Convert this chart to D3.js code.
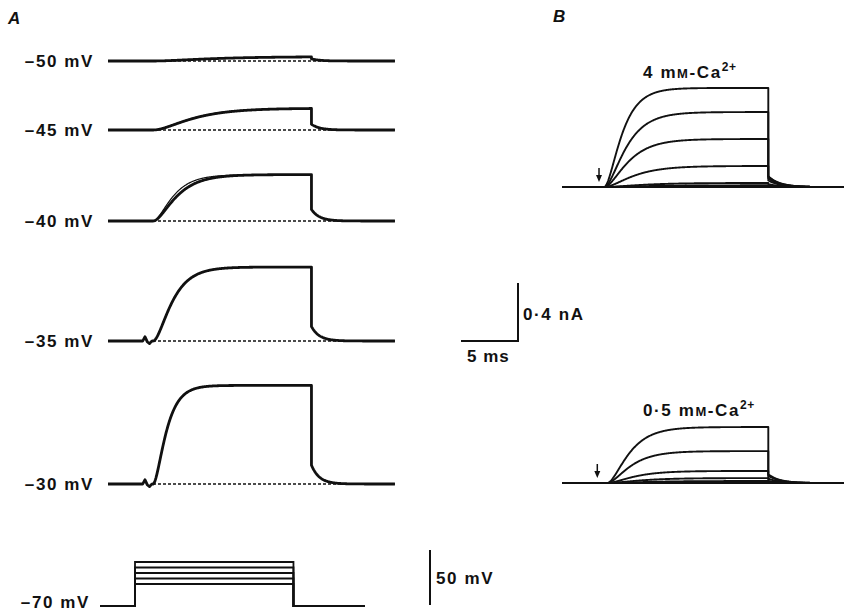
<!DOCTYPE html>
<html>
<head>
<meta charset="utf-8">
<script src="https://cdn.jsdelivr.net/npm/d3@7"></script>
<style>
  body { margin: 0; background: #fff; }
  text { font-family: "Liberation Sans", Arial, sans-serif; font-weight: bold; fill: #111;
         font-size: 17px; letter-spacing: 1.6px; }
</style>
</head>
<body>
<svg id="chart" width="844" height="612"></svg>
<script>
// ---- Panel A data: test steps from -70 mV and the currents they evoke ----
const stepLabels = ["\u201350 mV", "\u201345 mV", "\u201340 mV", "\u201335 mV", "\u201330 mV"];
const stepVoltages = [-50, -45, -40, -35, -30];     // mV
const holdingPotential = -70;                        // mV
const plateauA = [0.03, 0.15, 0.32, 0.51, 0.68];     // nA
const recTauA = [4.0, 2.7, 1.6, 1.3, 0.9];           // ms, recorded rise
const fitTauA = [4.0, 2.6, 1.35, 1.3, 0.9];          // ms, fitted rise
const tailA = [0.015, 0.04, 0.08, 0.1, 0.13];        // nA at step end
const blipA = [0, 0, 0, 0.03, 0.03];                 // nA, capacity artefact
const blipTimes = [-0.9, -0.7, -0.5, -0.3, -0.1];    // ms
const blipShape = [0, 1, -0.2, -0.6, 0];
const pulseA = 13.9;                                 // ms
const tailTauA = 0.7;                                // ms

// ---- Panel B data: computed families at two Ca concentrations ----
const concLabels = ["4", "0\u00b75"];
const plateauB4 = [0.683, 0.517, 0.331, 0.145, 0.028, 0.012];
const tauB4 = [1.2, 1.5, 1.65, 2.0, 2.6, 3.0];
const tailB4 = [0.075, 0.07, 0.06, 0.045, 0.02, 0.01];
const plateauB05 = [0.386, 0.22, 0.083, 0.034, 0.014];
const tauB05 = [1.5, 1.6, 1.85, 2.3, 2.8];
const tailB05 = [0.06, 0.05, 0.03, 0.015, 0.008];
const delayB = [0.1, 0.35];                          // ms
const arrowB = [-0.35, -0.5];                        // ms, stimulus marker
const pulseB = 14.5;                                 // ms
const tailTauB = 1.0;

// scale bars
const barCurrent = 0.4;   // nA
const barTime = 5;        // ms
const barVoltage = 50;    // mV

// ---- layout ----
const pxPerMs = 11.4, pxPerNa = 145;
const baseA = [61, 130, 221, 341, 484];
const baseB = [187, 483];

const svg = d3.select("#chart");

const xA = d3.scaleLinear().domain([0, 1]).range([153, 153 + pxPerMs]);
const xV = d3.scaleLinear().domain([0, 1]).range([135, 135 + pxPerMs]);
const xB = d3.scaleLinear().domain([0, 1]).range([603, 603 + pxPerMs]);
const yI = base => d3.scaleLinear().domain([0, 1]).range([base, base - pxPerNa]);
const yV = d3.scaleLinear().domain([holdingPotential, -20]).range([606, 551]);

const blip = d3.scaleLinear().domain(blipTimes).range(blipShape).clamp(true);

function current(t, amp, tau, delay, tOff, tail, tailTau) {
    if (t < delay) return 0;
    if (t <= tOff) {
        const m = 1 - Math.exp(-(t - delay) / tau);
        return amp * m * m;
    }
    return tail * Math.exp(-(t - tOff) / tailTau);
}

// sample a trace with the step-off drop kept sharp
function sample(t0, t1, tOff, fn) {
    const pts = [];
    d3.range(t0, tOff, 0.04).forEach(t => pts.push([t, fn(t)]));
    pts.push([tOff, fn(tOff)]);
    pts.push([tOff, fn(tOff + 1e-6)]);
    d3.range(tOff + 0.04, t1, 0.04).forEach(t => pts.push([t, fn(t)]));
    return pts;
}

// ---- Panel A ----
svg.append("text").attr("x", 8).attr("y", 24)
    .style("font-style", "italic").style("letter-spacing", "0").text("A");

stepVoltages.forEach((v, k) => {
    const y = yI(baseA[k]);
    const line = d3.line().x(d => xA(d[0])).y(d => y(d[1]));
    const t0 = xA.invert(108), t1 = xA.invert(395);

    // dashed zero-current line
    svg.append("line")
        .attr("x1", xA(0)).attr("x2", xA(t1))
        .attr("y1", y(0)).attr("y2", y(0))
        .attr("stroke", "#111").attr("stroke-width", 1.4)
        .attr("stroke-dasharray", "3,2");

    // recorded trace
    const rec = sample(t0, t1, pulseA, t =>
        blipA[k] * blip(t) + current(t, plateauA[k], recTauA[k], 0, pulseA, tailA[k], tailTauA));
    svg.append("path").attr("d", line(rec))
        .attr("fill", "none").attr("stroke", "#111")
        .attr("stroke-width", 2.8).attr("stroke-linejoin", "round");

    // fitted curve
    const fit = d3.range(0, pulseA, 0.04).map(t =>
        [t, current(t, plateauA[k], fitTauA[k], 0, pulseA, 0, 1)]);
    svg.append("path").attr("d", line(fit))
        .attr("fill", "none").attr("stroke", "#111").attr("stroke-width", 1.2);

    svg.append("text").attr("x", 94).attr("y", baseA[k] + 6)
        .attr("text-anchor", "end").text(stepLabels[k]);
});

// voltage protocol
const vLine = d3.line().x(d => xV(d[0])).y(d => yV(d[1]));
stepVoltages.forEach(v => {
    const t0 = xV.invert(100), t1 = xV.invert(365);
    const pts = [[t0, holdingPotential], [0, holdingPotential], [0, v],
                 [pulseA, v], [pulseA, holdingPotential], [t1, holdingPotential]];
    svg.append("path").attr("d", vLine(pts))
        .attr("fill", "none").attr("stroke", "#111").attr("stroke-width", 1.8);
});
svg.append("text").attr("x", 90).attr("y", 608)
    .attr("text-anchor", "end").text("\u201370 mV");

// 50 mV bar
const vBar = yV(holdingPotential) - yV(holdingPotential + barVoltage);
svg.append("line").attr("x1", 430).attr("x2", 430)
    .attr("y1", 605).attr("y2", 605 - vBar)
    .attr("stroke", "#111").attr("stroke-width", 2);
svg.append("text").attr("x", 436).attr("y", 584).text(barVoltage + " mV");

// current / time bar
const iBar = barCurrent * pxPerNa;
const tBar = xA(barTime) - xA(0);
svg.append("path")
    .attr("d", `M${518 - tBar},341H518V${341 - iBar}`)
    .attr("fill", "none").attr("stroke", "#111").attr("stroke-width", 2);
svg.append("text").attr("x", 523).attr("y", 320).text("0\u00b74 nA");
svg.append("text").attr("x", 467).attr("y", 362).style("letter-spacing", "1px").text(barTime + " ms");

// ---- Panel B ----
svg.append("text").attr("x", 553).attr("y", 22)
    .style("font-style", "italic").style("letter-spacing", "0").text("B");

[[plateauB4, tauB4, tailB4], [plateauB05, tauB05, tailB05]].forEach(([amps, taus, tails], p) => {
    const y = yI(baseB[p]);
    const line = d3.line().x(d => xB(d[0])).y(d => y(d[1]));
    const t0 = xB.invert(562), t1 = xB.invert(844);

    svg.append("line")
        .attr("x1", xB(t0)).attr("x2", xB(t1))
        .attr("y1", y(0)).attr("y2", y(0))
        .attr("stroke", "#111").attr("stroke-width", 2.2);

    amps.forEach((a, k) => {
        const pts = sample(0, xB.invert(810), pulseB, t =>
            current(t, a, taus[k], delayB[p], pulseB, tails[k], tailTauB));
        svg.append("path").attr("d", line(pts))
            .attr("fill", "none").attr("stroke", "#111")
            .attr("stroke-width", 1.9).attr("stroke-linejoin", "round");
    });

    // stimulus arrow
    const ax = xB(arrowB[p]);
    const top = baseB[p] - 19, tip = baseB[p] - 5;
    svg.append("line").attr("x1", ax).attr("x2", ax)
        .attr("y1", top).attr("y2", tip - 4)
        .attr("stroke", "#111").attr("stroke-width", 1.5);
    svg.append("path")
        .attr("d", `M${ax - 3},${tip - 7}L${ax + 3},${tip - 7}L${ax},${tip}Z`)
        .attr("fill", "#111");

    const label = svg.append("text")
        .attr("x", 643).attr("y", p === 0 ? 78 : 416);
    label.append("tspan").text(concLabels[p] + " m");
    label.append("tspan").style("font-size", "13px").text("M");
    label.append("tspan").text("-Ca");
    label.append("tspan").attr("dy", -7).style("font-size", "12px").style("letter-spacing", "0.5px").text("2+");
});
</script>
</body>
</html>
